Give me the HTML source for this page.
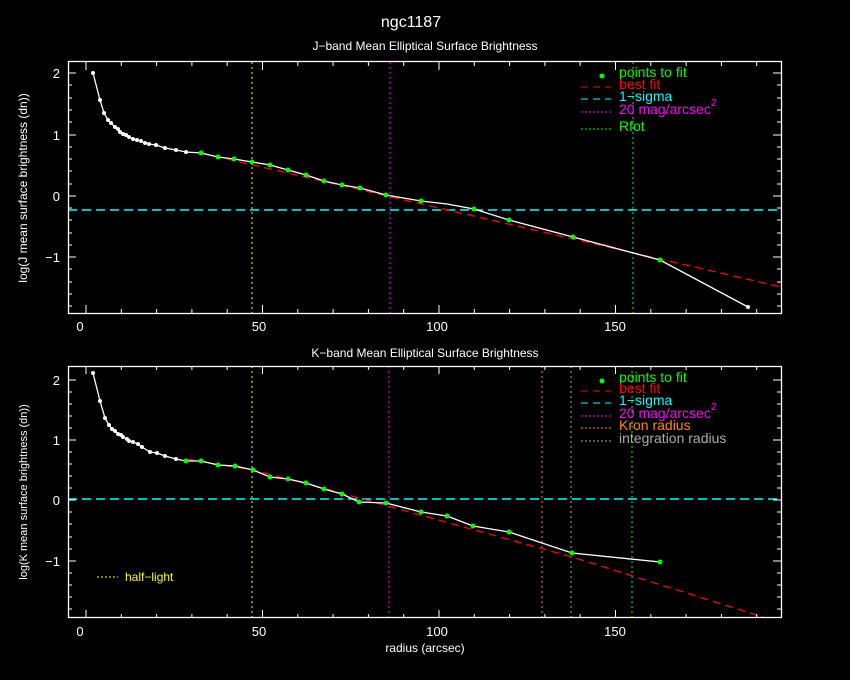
<!DOCTYPE html>
<html><head><meta charset="utf-8"><style>
body{margin:0;background:#000;}
svg{display:block;font-family:"Liberation Sans","DejaVu Sans",sans-serif;}
</style></head><body>
<svg width="850" height="680" viewBox="0 0 850 680" xmlns="http://www.w3.org/2000/svg">
<rect width="850" height="680" fill="#000"/>
<text x="411" y="27" fill="#fff" font-size="16" text-anchor="middle">ngc1187</text>
<text x="425" y="50" fill="#fff" font-size="12" text-anchor="middle">J−band Mean Elliptical Surface Brightness</text>
<text x="425" y="357" fill="#fff" font-size="12" text-anchor="middle">K−band Mean Elliptical Surface Brightness</text>
<text x="425" y="652" fill="#fff" font-size="12" text-anchor="middle">radius (arcsec)</text>
<text transform="translate(27,188) rotate(-90)" fill="#fff" font-size="12" text-anchor="middle">log(J mean surface brightness (dn))</text>
<text transform="translate(27,492) rotate(-90)" fill="#fff" font-size="11" text-anchor="middle">log(K mean surface brightness (dn))</text>

<!-- TOP PANEL -->
<g>
<line x1="252" y1="62" x2="252" y2="313" stroke="#ff0" stroke-dasharray="2,3"/>
<line x1="390" y1="62" x2="390" y2="313" stroke="#f0f" stroke-dasharray="2,3"/>
<line x1="633" y1="62" x2="633" y2="313" stroke="#0f0" stroke-dasharray="2,3"/>
<line x1="68" y1="210" x2="781" y2="210" stroke="#0ff" stroke-width="1.5" stroke-dasharray="9,5"/>
<line x1="201" y1="153" x2="781" y2="287" stroke="#f00" stroke-width="1.3" stroke-dasharray="8,5"/>
<polyline fill="none" stroke="#fff" stroke-width="1.3" points="93,73 100,100 104,113 108,120 111,123 115,127 118,129 120,132 123,134 126,135 129,137 133,139 137,140 141,141 145,143 149,144 156,145 165,148 176,150 186,152 201,153 218,157 234,159 252,162 270,165 288,170 306,175 324,181 342,185 360,188 386,195 421,201 447,204 474,209 509,220 573,237 660,260 748,307"/>
<g fill="#fff">
<circle cx="93" cy="73" r="2"/><circle cx="100" cy="100" r="2"/><circle cx="104" cy="113" r="2"/><circle cx="108" cy="120" r="2"/><circle cx="111" cy="123" r="2"/><circle cx="115" cy="127" r="2"/><circle cx="118" cy="129" r="2"/><circle cx="120" cy="132" r="2"/><circle cx="123" cy="134" r="2"/><circle cx="126" cy="135" r="2"/><circle cx="129" cy="137" r="2"/><circle cx="133" cy="139" r="2"/><circle cx="137" cy="140" r="2"/><circle cx="141" cy="141" r="2"/><circle cx="145" cy="143" r="2"/><circle cx="149" cy="144" r="2"/><circle cx="156" cy="145" r="2"/><circle cx="165" cy="148" r="2"/><circle cx="176" cy="150" r="2"/><circle cx="186" cy="152" r="2"/><circle cx="748" cy="307" r="2"/>
</g>
<g fill="#0f0">
<circle cx="201" cy="153" r="2.5"/><circle cx="218" cy="157" r="2.5"/><circle cx="234" cy="159" r="2.5"/><circle cx="252" cy="162" r="2.5"/><circle cx="270" cy="165" r="2.5"/><circle cx="288" cy="170" r="2.5"/><circle cx="306" cy="175" r="2.5"/><circle cx="324" cy="181" r="2.5"/><circle cx="342" cy="185" r="2.5"/><circle cx="360" cy="188" r="2.5"/><circle cx="386" cy="195" r="2.5"/><circle cx="421" cy="201" r="2.5"/><circle cx="474" cy="209" r="2.5"/><circle cx="509" cy="220" r="2.5"/><circle cx="573" cy="237" r="2.5"/><circle cx="660" cy="260" r="2.5"/>
</g>
<rect x="68.5" y="61.5" width="713" height="252" fill="none" stroke="#fff" stroke-width="1.3"/>
<g stroke="#fff">
<path d="M86,62v8M262.5,62v8M439,62v8M615.5,62v8M86,313v-8M262.5,313v-8M439,313v-8M615.5,313v-8"/>
<path d="M121.3,62v4M156.6,62v4M191.9,62v4M227.2,62v4M297.8,62v4M333.1,62v4M368.4,62v4M403.7,62v4M474.3,62v4M509.6,62v4M544.9,62v4M580.2,62v4M650.8,62v4M686.1,62v4M721.4,62v4M756.7,62v4M121.3,313v-4M156.6,313v-4M191.9,313v-4M227.2,313v-4M297.8,313v-4M333.1,313v-4M368.4,313v-4M403.7,313v-4M474.3,313v-4M509.6,313v-4M544.9,313v-4M580.2,313v-4M650.8,313v-4M686.1,313v-4M721.4,313v-4M756.7,313v-4"/>
<path d="M68,73h8M68,135h8M68,196h8M68,257h8M781,73h-8M781,135h-8M781,196h-8M781,257h-8"/>
<path d="M68,85h4M68,98h4M68,110h4M68,122h4M68,147h4M68,159h4M68,171h4M68,184h4M68,208h4M68,220h4M68,233h4M68,245h4M68,269h4M68,282h4M68,294h4M68,306h4M781,85h-4M781,98h-4M781,110h-4M781,122h-4M781,147h-4M781,159h-4M781,171h-4M781,184h-4M781,208h-4M781,220h-4M781,233h-4M781,245h-4M781,269h-4M781,282h-4M781,294h-4M781,306h-4"/>
</g>
<g fill="#fff" font-size="13" text-anchor="end">
<text x="60" y="78">2</text><text x="60" y="140">1</text><text x="60" y="201">0</text><text x="60" y="262">−1</text>
</g>
<g fill="#fff" font-size="13" text-anchor="middle">
<text x="80" y="331">0</text><text x="259" y="331">50</text><text x="437" y="331">100</text><text x="615" y="331">150</text>
</g>
<circle cx="602" cy="76" r="2.5" fill="#0f0"/>
<text x="619" y="77" fill="#0f0" font-size="14">points to fit</text>
<line x1="581" y1="87" x2="611" y2="87" stroke="#f00" stroke-dasharray="7,5"/>
<text x="619" y="89" fill="#f00" font-size="14">best fit</text>
<line x1="581" y1="99" x2="611" y2="99" stroke="#0ff" stroke-dasharray="7,5"/>
<text x="619" y="101" fill="#0ff" font-size="14">1−sigma</text>
<line x1="581" y1="112" x2="611" y2="112" stroke="#f0f" stroke-dasharray="2,2"/>
<text x="619" y="114" fill="#f0f" font-size="14">20 mag/arcsec<tspan font-size="10" dy="-8">2</tspan></text>
<line x1="581" y1="129" x2="611" y2="129" stroke="#0f0" stroke-dasharray="2,2"/>
<text x="619" y="131" fill="#0f0" font-size="14">Rfot</text>
</g>

<!-- BOTTOM PANEL -->
<g>
<line x1="252" y1="366" x2="252" y2="618" stroke="#ff0" stroke-dasharray="2,3"/>
<line x1="389" y1="366" x2="389" y2="618" stroke="#f0f" stroke-dasharray="2,3"/>
<line x1="542" y1="366" x2="542" y2="618" stroke="#f80" stroke-dasharray="2,3"/>
<line x1="571" y1="366" x2="571" y2="618" stroke="#aaa" stroke-dasharray="2,3"/>
<line x1="632" y1="366" x2="632" y2="618" stroke="#0f0" stroke-dasharray="2,3"/>
<line x1="68" y1="499" x2="781" y2="499" stroke="#0ff" stroke-width="1.5" stroke-dasharray="9,5"/>
<polyline fill="none" points="186,459 253,470 330,490 572,557 766,618" stroke="#f00" stroke-width="1.3" stroke-dasharray="8,5"/>
<polyline fill="none" stroke="#fff" stroke-width="1.3" points="93,373 100,401 105,418 109,425 112,429 115,431 118,434 121,435 123,437 127,439 129,441 133,442 138,444 142,447 150,452 157,453 165,456 176,459 186,461 201,461 218,465 235,466 253,470 270,477 288,479 306,483 324,489 342,494 359,502 386,503 421,512 447,516 473,526 509,532 572,553 660,562"/>
<g fill="#fff">
<circle cx="93" cy="373" r="2"/><circle cx="100" cy="401" r="2"/><circle cx="105" cy="418" r="2"/><circle cx="109" cy="425" r="2"/><circle cx="112" cy="429" r="2"/><circle cx="115" cy="431" r="2"/><circle cx="118" cy="434" r="2"/><circle cx="121" cy="435" r="2"/><circle cx="123" cy="437" r="2"/><circle cx="127" cy="439" r="2"/><circle cx="129" cy="441" r="2"/><circle cx="133" cy="442" r="2"/><circle cx="138" cy="444" r="2"/><circle cx="142" cy="447" r="2"/><circle cx="150" cy="452" r="2"/><circle cx="157" cy="453" r="2"/><circle cx="165" cy="456" r="2"/><circle cx="176" cy="459" r="2"/>
</g>
<g fill="#0f0">
<circle cx="186" cy="461" r="2.5"/><circle cx="201" cy="461" r="2.5"/><circle cx="218" cy="465" r="2.5"/><circle cx="235" cy="466" r="2.5"/><circle cx="253" cy="470" r="2.5"/><circle cx="270" cy="477" r="2.5"/><circle cx="288" cy="479" r="2.5"/><circle cx="306" cy="483" r="2.5"/><circle cx="324" cy="489" r="2.5"/><circle cx="342" cy="494" r="2.5"/><circle cx="359" cy="502" r="2.5"/><circle cx="386" cy="503" r="2.5"/><circle cx="421" cy="512" r="2.5"/><circle cx="447" cy="516" r="2.5"/><circle cx="473" cy="526" r="2.5"/><circle cx="509" cy="532" r="2.5"/><circle cx="572" cy="553" r="2.5"/><circle cx="660" cy="562" r="2.5"/>
</g>
<rect x="68.5" y="366.5" width="713" height="251" fill="none" stroke="#fff" stroke-width="1.3"/>
<g stroke="#fff">
<path d="M86,366v8M262.5,366v8M439,366v8M615.5,366v8M86,618v-8M262.5,618v-8M439,618v-8M615.5,618v-8"/>
<path d="M121.3,366v4M156.6,366v4M191.9,366v4M227.2,366v4M297.8,366v4M333.1,366v4M368.4,366v4M403.7,366v4M474.3,366v4M509.6,366v4M544.9,366v4M580.2,366v4M650.8,366v4M686.1,366v4M721.4,366v4M756.7,366v4M121.3,618v-4M156.6,618v-4M191.9,618v-4M227.2,618v-4M297.8,618v-4M333.1,618v-4M368.4,618v-4M403.7,618v-4M474.3,618v-4M509.6,618v-4M544.9,618v-4M580.2,618v-4M650.8,618v-4M686.1,618v-4M721.4,618v-4M756.7,618v-4"/>
<path d="M68,380h8M68,440h8M68,500h8M68,561h8M781,380h-8M781,440h-8M781,500h-8M781,561h-8"/>
<path d="M68,392h4M68,404h4M68,416h4M68,428h4M68,452h4M68,464h4M68,476h4M68,488h4M68,512h4M68,524h4M68,537h4M68,549h4M68,573h4M68,585h4M68,597h4M68,609h4M781,392h-4M781,404h-4M781,416h-4M781,428h-4M781,452h-4M781,464h-4M781,476h-4M781,488h-4M781,512h-4M781,524h-4M781,537h-4M781,549h-4M781,573h-4M781,585h-4M781,597h-4M781,609h-4"/>
</g>
<g fill="#fff" font-size="13" text-anchor="end">
<text x="60" y="385">2</text><text x="60" y="445">1</text><text x="60" y="505">0</text><text x="60" y="566">−1</text>
</g>
<g fill="#fff" font-size="13" text-anchor="middle">
<text x="80" y="636">0</text><text x="259" y="636">50</text><text x="437" y="636">100</text><text x="615" y="636">150</text>
</g>
<line x1="97" y1="577" x2="118" y2="577" stroke="#ff0" stroke-dasharray="2,2"/>
<text x="125" y="581" fill="#ff0" font-size="12">half−light</text>
<circle cx="602" cy="381" r="2.5" fill="#0f0"/>
<text x="619" y="382" fill="#0f0" font-size="14">points to fit</text>
<line x1="581" y1="391" x2="611" y2="391" stroke="#f00" stroke-dasharray="7,5"/>
<text x="619" y="393" fill="#f00" font-size="14">best fit</text>
<line x1="581" y1="403" x2="611" y2="403" stroke="#0ff" stroke-dasharray="7,5"/>
<text x="619" y="405" fill="#0ff" font-size="14">1−sigma</text>
<line x1="581" y1="416" x2="611" y2="416" stroke="#f0f" stroke-dasharray="2,2"/>
<text x="619" y="418" fill="#f0f" font-size="14">20 mag/arcsec<tspan font-size="10" dy="-8">2</tspan></text>
<line x1="581" y1="428" x2="611" y2="428" stroke="#f80" stroke-dasharray="2,2"/>
<text x="619" y="430" fill="#f80" font-size="14">Kron radius</text>
<line x1="581" y1="441" x2="611" y2="441" stroke="#aaa" stroke-dasharray="2,2"/>
<text x="619" y="443" fill="#aaa" font-size="14">integration radius</text>
</g>
</svg>
</body></html>
